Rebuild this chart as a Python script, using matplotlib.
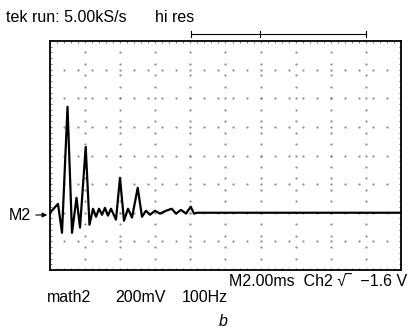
import numpy as np
import matplotlib
matplotlib.use("Agg")
import matplotlib.pyplot as plt

plt.rcParams['font.family'] = ['Liberation Sans', 'DejaVu Sans']

# trace, in divisions (x: 0..10, y: relative to M2 marker)
t = [0.0, 0.228, 0.342, 0.499, 0.627, 0.755, 0.855, 1.017, 1.125, 1.225,
     1.311, 1.396, 1.481, 1.567, 1.652, 1.738, 1.880, 1.994, 2.108, 2.222,
     2.336, 2.499, 2.621, 2.735, 2.849, 2.991, 3.134, 3.305, 3.467, 3.590,
     3.732, 3.875, 4.009, 4.103, 4.188, 10.0]
v = [0.0, 0.31, -0.70, 3.70, -0.70, 0.52, -0.52, 2.30, -0.42, 0.14,
     -0.14, 0.14, -0.07, 0.17, -0.10, 0.14, -0.24, 1.22, -0.28, 0.14,
     -0.17, 0.87, -0.14, 0.07, -0.07, 0.07, -0.03, 0.07, 0.14, -0.03,
     0.10, -0.03, 0.21, -0.03, 0.0, 0.0]
m2_level = 2.0

W, H = 412, 330
fig = plt.figure(figsize=(W / 100, H / 100), dpi=100)
ax = fig.add_axes([50 / W, (H - 270) / H, 351 / W, 229 / H])
ax.set_xlim(0, 10)
ax.set_ylim(0, 8)

# dotted graticule (faint)
sub = np.arange(0, 10.01, 0.4)
for gx in range(1, 10):
    ys = np.arange(0, 8.01, 0.4)
    ax.plot(np.full_like(ys, gx), ys, ls='none', marker='.', ms=1.0,
            color='#777777')
for gy in range(1, 8):
    ax.plot(sub, np.full_like(sub, gy), ls='none', marker='.', ms=1.0,
            color='#777777')

# trace
tt = np.array(t)
vv = np.array(v) + m2_level
ax.plot(tt, vv, color='black', lw=1.6)

ax.set_xticks(np.arange(0, 10.01, 0.2))
ax.set_yticks(np.arange(0, 8.01, 0.2))
ax.tick_params(direction='in', length=1.5, width=0.5, color='#444444',
               top=True, right=True, labelbottom=False, labelleft=False)
for s in ax.spines.values():
    s.set_linewidth(1.3)

# trigger bracket above the screen
by = 8.25
ax.plot([4.02, 9.0], [by, by], color='black', lw=0.8, clip_on=False)
for bx in (4.02, 5.98, 9.0):
    ax.plot([bx, bx], [by - 0.1, by + 0.1], color='black', lw=0.8,
            clip_on=False)


def px(x, y, s, **kw):
    fig.text(x / W, 1 - y / H, s, va='center', **kw)


fs = 11.5
px(6, 18, "tek run: 5.00kS/s", fontsize=fs)
px(155, 18, "hi res", fontsize=fs)
px(9, 215, "M2", fontsize=fs)
fig.add_artist(matplotlib.patches.FancyArrowPatch(
    (33 / W, 1 - 215 / H), (50 / W, 1 - 215 / H), transform=fig.transFigure,
    arrowstyle='-|>', mutation_scale=7, lw=0.8, color='black'))
px(47, 298, "math2", fontsize=fs)
px(115, 298, "200mV", fontsize=fs)
px(182, 298, "100Hz", fontsize=fs)
px(229, 282, "M2.00ms  Ch2 \u221a\u203e  \u22121.6 V", fontsize=fs)
px(219, 322, "b", fontsize=fs, style='italic')

fig.savefig("out.png", dpi=100)
